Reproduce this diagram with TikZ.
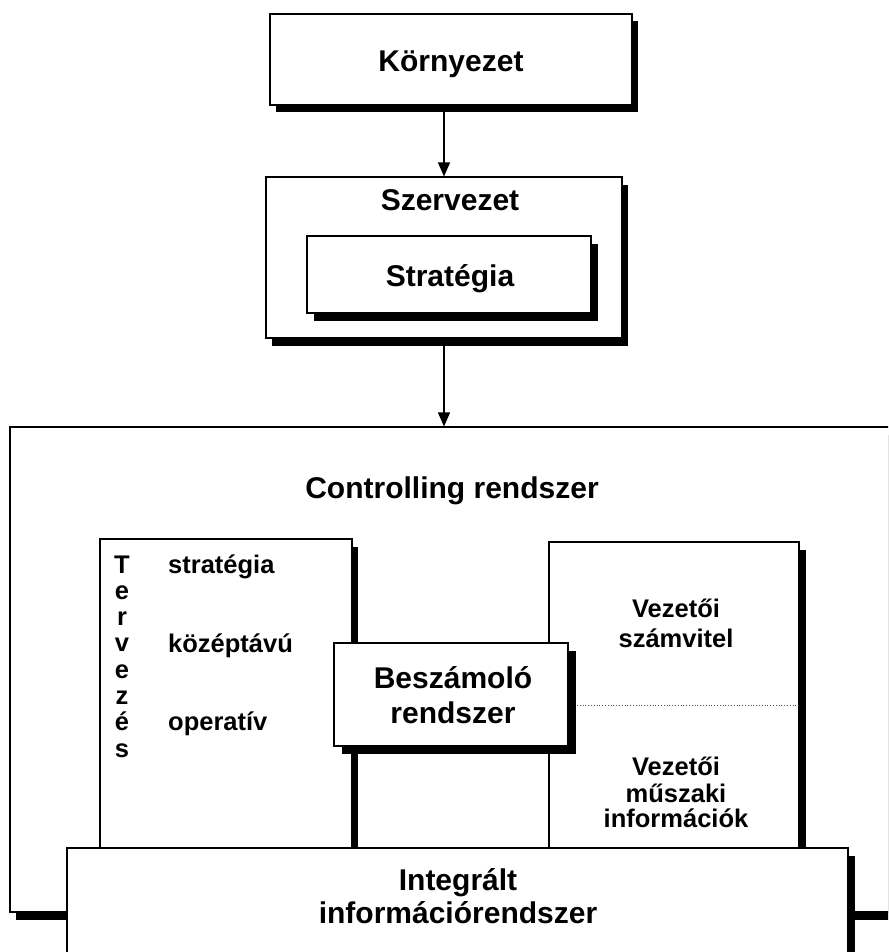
\documentclass[tikz,border=0pt]{standalone}
\usepackage{fontspec}
\setmainfont{Liberation Sans}
\usetikzlibrary{arrows.meta,shadows}
\begin{document}
\begin{tikzpicture}[x=1pt,y=-1pt,
  box/.style={draw=black, line width=1.1pt, fill=white, inner sep=0pt},
  shd/.style={drop shadow={shadow xshift=#1pt, shadow yshift=-7.5pt, fill=black, opacity=1}},
  big/.style={font=\fontsize{30}{35}\selectfont\bfseries, inner sep=0pt},
  small/.style={font=\fontsize{25.5}{29}\selectfont\bfseries, inner sep=0pt},
  arr/.style={line width=1.2pt, -{Triangle[length=14pt,width=12pt]}},
  dotline/.style={line width=0.8pt, dotted, black!70}]
\useasboundingbox (0,0) rectangle (888,952);
\clip (0,0) rectangle (888,952);

% top boxes
\node[box, shd=6, minimum width=362pt, minimum height=91pt] (env) at (451,59.5) {};
\node[big, anchor=base] (envt) at (451,72) {Környezet};

\node[box, shd=6, minimum width=356pt, minimum height=161pt] (org) at (444,257.5) {};
\node[big, anchor=base] (orgt) at (450,210) {Szervezet};

\node[box, shd=7, minimum width=284pt, minimum height=77pt] (strat) at (449,274.5) {};
\node[big, anchor=base] (stratt) at (450,286) {Stratégia};

% controlling system
\node[box, shd=6, minimum width=950pt, minimum height=485pt] (ctrl) at (485,669.5) {};
\node[big, anchor=base] (ctrlt) at (452,498) {Controlling rendszer};

\draw[arr] (org.north |- env.south) -- (org.north);
\draw[arr] (org.south) -- (ctrl.north -| org.south);

% planning box
\node[box, shd=6, minimum width=252pt, minimum height=309pt] (plan) at (226,693.5) {};
\foreach \c [count=\i from 0] in {T,e,r,v,e,z,é,s}
  \node[small, anchor=base] (tl\i) at (122,573+26.3*\i) {\c};
\node[small, anchor=base west] (p1) at (168,573) {stratégia};
\node[small, anchor=base west] (p2) at (168,652) {középtávú};
\node[small, anchor=base west] (p3) at (168,730) {operatív};

% right box
\node[box, shd=7, minimum width=250pt, minimum height=306pt] (rb) at (674,695) {};
\node[small, anchor=base] (r1) at (676,617) {Vezetői};
\node[small, anchor=base] (r2) at (676,647) {számvitel};
\node[small, anchor=base] (r3) at (676,775) {Vezetői};
\node[small, anchor=base] (r4) at (676,802) {műszaki};
\node[small, anchor=base] (r5) at (676,827) {információk};

% reporting system
\node[box, shd=8, minimum width=234pt, minimum height=103pt] (rep) at (451,694.5) {};
\node[big, anchor=base] (rep1) at (453,688) {Beszámoló};
\node[big, anchor=base] (rep2) at (453,723) {rendszer};

\coordinate (d1) at (577,705);
\draw[dotline] (d1) -- (d1 -| rb.east);

% integrated information system
\node[box, shd=7, minimum width=781pt, minimum height=112pt] (iis) at (457.5,904) {};
\node[big, anchor=base] (iis1) at (458,890) {Integrált};
\node[big, anchor=base] (iis2) at (458,923) {információrendszer};
\end{tikzpicture}
\end{document}
